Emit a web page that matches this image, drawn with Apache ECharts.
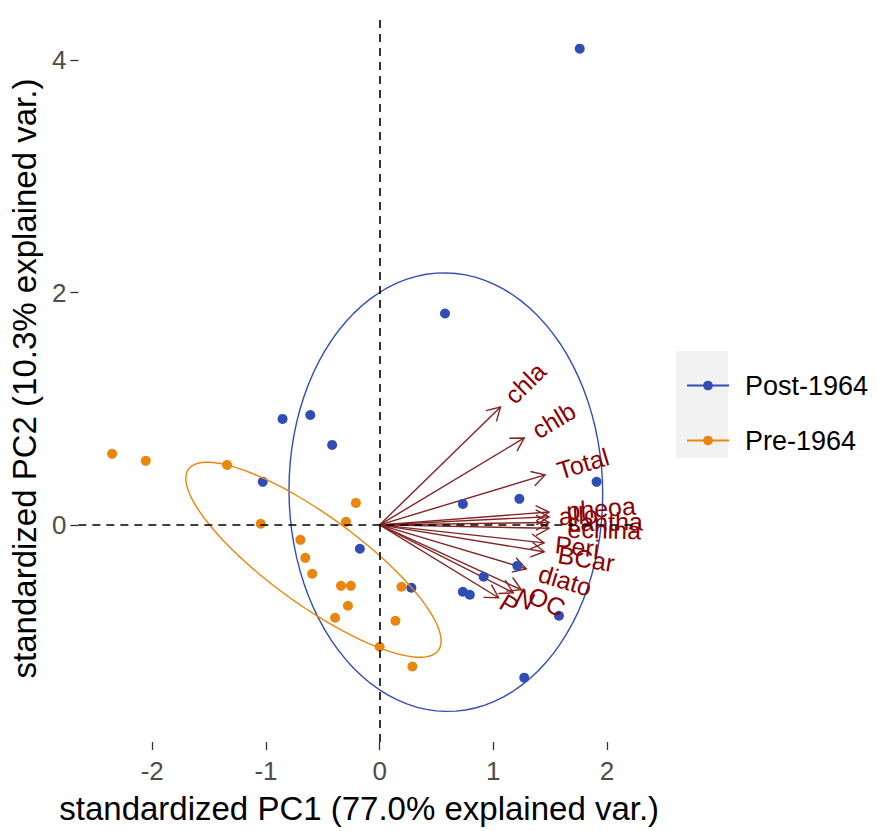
<!DOCTYPE html>
<html>
<head>
<meta charset="utf-8">
<script src="https://cdn.jsdelivr.net/npm/echarts@6/dist/echarts.min.js"></script>
<style>
html,body{margin:0;padding:0;background:#fff;}
#chart{width:878px;height:831px;}
</style>
</head>
<body>
<div id="chart"></div>
<script>
// ---- data ----
const groupNames = ['Post-1964', 'Pre-1964'];
const postX = [1.76, 0.575, -0.854, -0.61, -0.418, -1.028, -0.174, 1.908, 1.229, 0.732, 1.211, 0.915, 0.732, 0.793, 0.279, 1.577, 1.272];
const postY = [4.10, 1.82, 0.912, 0.946, 0.688, 0.37, -0.206, 0.37, 0.224, 0.18, -0.353, -0.447, -0.576, -0.602, -0.542, -0.783, -1.316];
const preX = [-2.353, -2.057, -1.342, -0.209, -0.296, -1.046, -0.697, -0.654, -0.593, -0.340, -0.253, -0.279, -0.392, 0.0, 0.192, 0.139, 0.288];
const preY = [0.611, 0.551, 0.516, 0.189, 0.026, 0.009, -0.129, -0.284, -0.421, -0.525, -0.525, -0.697, -0.80, -1.05, -0.533, -0.826, -1.22];
const varNames = ['chla', 'chlb', 'Total', 'pheoa', 'allo', 'cantha', 'echina', 'Peri', 'BCar', 'diato', 'OC', 'N', 'P'];
const varX = [1.063, 1.272, 1.455, 1.49, 1.49, 1.49, 1.49, 1.447, 1.447, 1.29, 1.246, 1.176, 1.046];
const varY = [1.015, 0.748, 0.43, 0.11, 0.07, 0.02, -0.03, -0.155, -0.232, -0.378, -0.559, -0.585, -0.628];
const xTicks = [-2, -1, 0, 1, 2];
const yTicks = [0, 2, 4];
const xTitle = 'standardized PC1 (77.0% explained var.)';
const yTitle = 'standardized PC2 (10.3% explained var.)';
const ellipseProb = 0.68;

// ---- styles ----
const FONT = '"Liberation Sans", Arial, sans-serif';
const colPost = '#2F4DB5';
const colPre = '#E8860E';
const arrowCol = '#832424';
const labelCol = '#8B0000';

// concentration ellipse as computed by ggbiplot (mean + chol(cov) * sqrt(qchisq(p,2)))
function ellipse(xs, ys) {
  const n = xs.length;
  const mx = xs.reduce((a, b) => a + b, 0) / n;
  const my = ys.reduce((a, b) => a + b, 0) / n;
  let sxx = 0, syy = 0, sxy = 0;
  for (let i = 0; i < n; i++) {
    sxx += (xs[i] - mx) ** 2; syy += (ys[i] - my) ** 2; sxy += (xs[i] - mx) * (ys[i] - my);
  }
  sxx /= (n - 1); syy /= (n - 1); sxy /= (n - 1);
  const a = Math.sqrt(sxx), b = sxy / a, c = Math.sqrt(syy - b * b);
  const ed = Math.sqrt(-2 * Math.log(1 - ellipseProb));
  const pts = [];
  for (let k = 0; k <= 100; k++) {
    const t = -Math.PI + 2 * Math.PI * k / 100;
    const ct = Math.cos(t), st = Math.sin(t);
    pts.push([mx + ed * ct * a, my + ed * (ct * b + st * c)]);
  }
  return pts;
}

const measureCtx = document.createElement('canvas').getContext('2d');
const LABEL_SIZE = 25;
measureCtx.font = LABEL_SIZE + 'px ' + FONT;

const postData = postX.map((x, i) => [x, postY[i]]);
const preData = preX.map((x, i) => [x, preY[i]]);
const varData = varX.map((x, i) => [x, varY[i], varNames[i]]);

const chart = echarts.init(document.getElementById('chart'), null, {renderer: 'svg'});

function arrowItem(params, api) {
  const o = api.coord([0, 0]);
  const t = api.coord([api.value(0), api.value(1)]);
  const ang = Math.atan2(t[1] - o[1], t[0] - o[0]);
  const L = 15, h = Math.PI / 6;
  const p1 = [t[0] - L * Math.cos(ang - h), t[1] - L * Math.sin(ang - h)];
  const p2 = [t[0] - L * Math.cos(ang + h), t[1] - L * Math.sin(ang + h)];
  return {
    type: 'group',
    children: [
      {type: 'line', shape: {x1: o[0], y1: o[1], x2: t[0], y2: t[1]}, style: {stroke: arrowCol, lineWidth: 1.4}},
      {type: 'polyline', shape: {points: [p1, t, p2]}, style: {stroke: arrowCol, lineWidth: 1.4, fill: null}}
    ]
  };
}

function labelItem(params, api) {
  const o = api.coord([0, 0]);
  const t = api.coord([api.value(0), api.value(1)]);
  const ang = Math.atan2(t[1] - o[1], t[0] - o[0]);
  const name = varNames[params.dataIndex];
  const w = measureCtx.measureText(name).width;
  const off = 0.25 * w;
  return {
    type: 'text',
    x: t[0] + off * Math.cos(ang),
    y: t[1] + off * Math.sin(ang),
    rotation: -ang,
    style: {text: name, fill: labelCol, font: LABEL_SIZE + 'px ' + FONT, align: 'left', verticalAlign: 'middle'}
  };
}

const option = {
  animation: false,
  backgroundColor: '#ffffff',
  grid: {left: 73, right: 238, top: 15, bottom: 89, containLabel: false},
  xAxis: {
    type: 'value', min: -2.65, max: 2.29,
    name: xTitle, nameLocation: 'middle', nameGap: 50,
    nameTextStyle: {fontFamily: FONT, fontSize: 33, color: '#000'},
    axisLine: {show: false, onZero: false},
    axisTick: {show: true, length: 8, lineStyle: {color: '#333', width: 1.3}, customValues: xTicks},
    axisLabel: {fontFamily: FONT, fontSize: 26, color: '#4D4D4D', margin: 16, customValues: xTicks},
    splitLine: {show: false}
  },
  yAxis: {
    type: 'value', min: -1.87, max: 4.39,
    name: yTitle, nameLocation: 'middle', nameGap: 34, nameRotate: 90,
    nameTextStyle: {fontFamily: FONT, fontSize: 33, color: '#000'},
    axisLine: {show: false, onZero: false},
    axisTick: {show: true, length: 8, lineStyle: {color: '#333', width: 1.3}, customValues: yTicks},
    axisLabel: {fontFamily: FONT, fontSize: 26, color: '#4D4D4D', margin: 12, customValues: yTicks},
    splitLine: {show: false}
  },
  legend: {
    orient: 'vertical', left: 681, top: 367,
    data: groupNames,
    itemWidth: 42, itemHeight: 12, itemGap: 28,
    textStyle: {fontFamily: FONT, fontSize: 27, color: '#000', padding: [0, 0, 0, 11]},
    selectedMode: false
  },
  graphic: [{
    type: 'rect', left: 676, top: 351, z: 0,
    shape: {width: 52, height: 107}, style: {fill: '#F2F2F2'}
  }],
  series: [
    {
      name: groupNames[0], type: 'line', data: ellipse(postX, postY),
      symbol: 'circle', showSymbol: false, smooth: false, z: 3, silent: true,
      itemStyle: {color: colPost}, lineStyle: {color: colPost, width: 1.4}
    },
    {
      name: groupNames[1], type: 'line', data: ellipse(preX, preY),
      symbol: 'circle', showSymbol: false, smooth: false, z: 3, silent: true,
      itemStyle: {color: colPre}, lineStyle: {color: colPre, width: 1.4}
    },
    {
      name: 'arrows', type: 'custom', data: varData, renderItem: arrowItem, z: 1, silent: true
    },
    {
      name: groupNames[0], type: 'scatter', data: postData, symbol: 'circle', symbolSize: 10, z: 2,
      itemStyle: {color: colPost, opacity: 1},
      markLine: {
        silent: true, symbol: ['none', 'none'], z: 10, label: {show: false},
        lineStyle: {color: '#000', type: [8, 6], width: 1.6},
        data: [{xAxis: 0}, {yAxis: 0}]
      }
    },
    {
      name: groupNames[1], type: 'scatter', data: preData, symbol: 'circle', symbolSize: 10, z: 2,
      itemStyle: {color: colPre, opacity: 1}
    },
    {
      name: 'labels', type: 'custom', data: varData, renderItem: labelItem, z: 4, silent: true
    }
  ]
};
chart.setOption(option);
</script>
</body>
</html>
